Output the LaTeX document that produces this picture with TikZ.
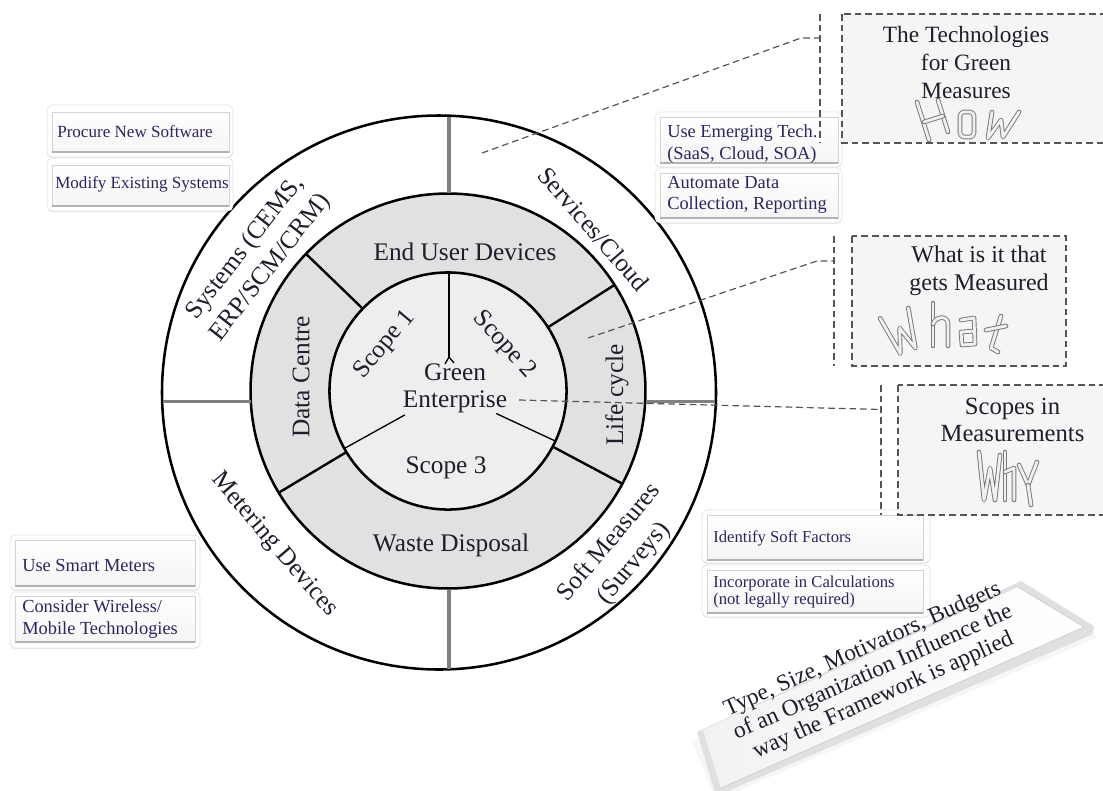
\documentclass[tikz,border=0pt]{standalone}
\usepackage{fontspec}
\setmainfont{Liberation Serif}
\usetikzlibrary{shadows,calc}

\definecolor{ink}{HTML}{1E1E2C}
\definecolor{cardink}{HTML}{2A2760}
\definecolor{ringgray}{HTML}{E1E1E1}
\definecolor{coregray}{HTML}{EEEEEE}
\definecolor{notefill}{HTML}{F5F5F5}
\definecolor{dashgray}{HTML}{555555}
\definecolor{spokegray}{HTML}{808080}
\definecolor{decogray}{HTML}{7A7A7A}

\begin{document}
\begin{tikzpicture}[x=0.75pt,y=-0.75pt,
  ring/.style={draw=black, line width=1.9pt},
  spoke/.style={draw=spokegray, line width=2.6pt},
  cut/.style={draw=black, line width=1.8pt},
  hair/.style={draw=black, line width=1pt},
  lbl/.style={text=ink, font=\fontsize{19}{24}\selectfont, inner sep=0pt, align=center},
  note/.style={draw=dashgray, dash pattern=on 5pt off 3pt, fill=notefill, line width=0.9pt},
  lead/.style={draw=dashgray, dash pattern=on 5pt off 3pt, line width=0.9pt},
  cardframe/.style={fill=white, draw=gray!22, line width=0.5pt, rounded corners=4pt,
    drop shadow={opacity=0.18, shadow xshift=0pt, shadow yshift=-0.8pt}},
  cardface/.style={top color=white, bottom color=gray!8, draw=gray!35, line width=0.5pt},
  cardedge/.style={draw=gray!60, line width=1.3pt},
  cardtxt/.style={text=cardink, font=\fontsize{13.8}{16.3}\selectfont, inner sep=0pt, anchor=west, align=left},
  toptxt/.style={cardtxt, font=\fontsize{12.8}{15}\selectfont},
  smalltxt/.style={cardtxt, font=\fontsize{12.5}{12.8}\selectfont},
  deco/.style={draw=decogray, double=gray!12, double distance=2.1pt, line width=0.7pt, line cap=round, line join=round}
]
\useasboundingbox (0,0) rectangle (1103,790);

% ---------- wheel ----------
\coordinate (oc) at (439,392.5);
\coordinate (c) at (448,391);
\draw[ring, fill=white] (oc) circle[radius=207.75pt];
\draw[ring, fill=ringgray] (c) circle[radius=148.1pt];
\draw[ring, fill=coregray] (c) circle[radius=88.9pt];

% outer ring separators
\coordinate (vt1) at (449,116.5); \coordinate (vt2) at (449,193);
\coordinate (vb1) at (449,589.5); \coordinate (vb2) at (449,669);
\coordinate (hl1) at (163,401.5); \coordinate (hl2) at (250.5,401.5);
\coordinate (hr1) at (645.5,401.5); \coordinate (hr2) at (715,401.5);
\draw[spoke] (vt1) -- (vt2);
\draw[spoke] (vb1) -- (vb2);
\draw[spoke] (hl1) -- (hl2);
\draw[spoke] (hr1) -- (hr2);

% middle ring separators
\foreach \a in {136,32.5,-28,211}
  \draw[cut] ($(c)+(\a:88.9pt)$) -- ($(c)+(\a:148.1pt)$);

% core separators
\coordinate (ytop) at (449,273.5);
\coordinate (yfork) at (449,357);
\draw[hair] (ytop) -- (yfork);
\draw[hair] (yfork) -- ++(-4,7);
\draw[hair] (yfork) -- ++(5,6);
\draw[hair] ($(c)+(209:37pt)$) -- ($(c)+(209:88.9pt)$);
\draw[hair] ($(c)+(-25:40pt)$) -- ($(c)+(-25:88.9pt)$);

% ring labels
\node[lbl] (eud) at (465,252) {End User Devices};
\node[lbl, rotate=90] (dc) at (301,377) {Data Centre};
\node[lbl, rotate=90] (lc) at (617,395) {Life cycle};
\node[lbl] (wd) at (451,545) {Waste Disposal};
\node[lbl, rotate=50] (s1) at (385,345) {Scope 1};
\node[lbl, rotate=-48] (s2) at (504,345) {Scope 2};
\node[lbl] (s3) at (446,468) {Scope 3};
\node[lbl] (green) at (455,372) {Green};
\node[lbl] (ent) at (455,402) {Enterprise};
\node[lbl, rotate=52] (sys) at (258,258) {Systems (CEMS,\\ERP/SCM/CRM)};
\node[lbl, rotate=-49] (svc) at (594,229) {Services/Cloud};
\node[lbl, rotate=-49.5] (met) at (274,545) {Metering Devices};
\node[lbl, rotate=50] (soft) at (622,553) {Soft Measures\\(Surveys)};

% ---------- action cards ----------
% systems
\draw[cardframe] (47,105) rectangle (233,157);
\draw[cardface] (52,112) rectangle (229,152);
\draw[cardedge] (52,152) -- (229,152);
\node[toptxt] (procure) at (57,132) {Procure New Software};
\draw[cardframe] (47,158) rectangle (233,211);
\draw[cardface] (52,165) rectangle (229,206);
\draw[cardedge] (52,206) -- (229,206);
\node[toptxt] (modify) at (55,184) {Modify Existing Systems};
% services
\draw[cardframe] (655,112) rectangle (842,167);
\draw[cardface] (660,117) rectangle (838,163);
\draw[cardedge] (660,163) -- (838,163);
\node[cardtxt] (emerge) at (667,144) {Use Emerging Tech.\\(SaaS, Cloud, SOA)};
\draw[cardframe] (655,168) rectangle (842,223);
\draw[cardface] (660,173) rectangle (838,218);
\draw[cardedge] (660,218) -- (838,218);
\node[cardtxt] (automate) at (667,195) {Automate Data\\Collection, Reporting};
% metering
\draw[cardframe] (10,535) rectangle (200,590);
\draw[cardface] (15,540) rectangle (195,586);
\draw[cardedge] (15,586) -- (195,586);
\node[cardtxt] (smart) at (22,565) {Use Smart Meters};
\draw[cardframe] (10,592) rectangle (200,648);
\draw[cardface] (15,596) rectangle (195,642);
\draw[cardedge] (15,642) -- (195,642);
\node[cardtxt] (wireless) at (22,619) {Consider Wireless/\\Mobile Technologies};
% soft measures
\draw[cardframe] (702,510) rectangle (930,563);
\draw[cardface] (707,515) rectangle (923,560);
\draw[cardedge] (707,560) -- (923,560);
\node[smalltxt] (identify) at (713,538) {Identify Soft Factors};
\draw[cardframe] (702,565) rectangle (930,617);
\draw[cardface] (707,570) rectangle (923,613);
\draw[cardedge] (707,613) -- (923,613);
\node[smalltxt] (incorp) at (713,592) {Incorporate in Calculations\\(not legally required)};

% ---------- question notes ----------
% how
\draw[note] (842,14) rectangle (1112,143);
\coordinate (howT) at (820,14); \coordinate (howB) at (820,143);
\draw[lead] (howT) -- (howB);
\coordinate (howsrc) at (482,153); \coordinate (howknee) at (801,38); \coordinate (howend) at (820,38);
\draw[lead] (howsrc) -- (howknee) -- (howend);
\node[text=ink, font=\fontsize{17.5}{21}\selectfont, align=center, inner sep=0pt] (howtxt) at (966,63) {The Technologies\\for Green\\Measures};
\draw[deco] (917,102) -- (929,140);
\draw[deco] (938,100) -- (948,132);
\draw[deco] (924,122) -- (943,116);
\draw[deco, rounded corners=3pt] (960,112) rectangle (974,137);
\draw[deco] (992,112) -- (988,138) -- (1001,120) -- (1003,137) -- (1019,112);

% what
\draw[note] (852,236) rectangle (1066,366);
\coordinate (whatT) at (834,236); \coordinate (whatB) at (834,366);
\draw[lead] (whatT) -- (whatB);
\coordinate (whatsrc) at (588,338); \coordinate (whatknee) at (817,261); \coordinate (whatend) at (834,261);
\draw[lead] (whatsrc) -- (whatknee) -- (whatend);
\node[text=ink, font=\fontsize{18}{21}\selectfont, align=center, inner sep=0pt] (whattxt) at (979,271) {What is it that\\gets Measured};
\begin{scope}[rotate around={20:(901,332)}]
  \draw[deco] (886,312) -- (893,352) -- (901,328) -- (909,352) -- (916,312);
\end{scope}
\draw[deco] (933,303) -- (933,346);
\draw[deco] (933,324) .. controls (936,316) and (948,315) .. (948,324) -- (948,346);
\draw[deco] (961,320) -- (974,318) -- (975,344) -- (962,345) -- (961,332) -- (975,331);
\draw[deco] (1001,316) -- (991,348) -- (998,352);
\draw[deco] (986,330) -- (1006,326);

% why
\draw[note] (898,385) rectangle (1112,515);
\coordinate (whyT) at (881,385); \coordinate (whyB) at (881,515);
\draw[lead] (whyT) -- (whyB);
\coordinate (whysrc) at (519,400); \coordinate (whyend) at (881,409.5);
\draw[lead] (whysrc) -- (whyend);
\node[text=ink, font=\fontsize{18.5}{20}\selectfont, align=center, inner sep=0pt] (whytxt) at (1012.5,420) {Scopes in\\Measurements};
\draw[deco] (979,452) -- (984,500) -- (990,468) -- (995,500) -- (1000,455);
\draw[deco] (1005,452) -- (1005,500);
\draw[deco] (1005,472) -- (1014,468) -- (1014,500);
\draw[deco] (1019,465) -- (1028,485) -- (1037,462);
\draw[deco] (1028,485) -- (1031,505);

% ---------- context slab ----------
\fill[gray!7] (692,742) -- (1018,590) -- (1098,637) -- (716,800) -- cycle;
\fill[gray!24] (697,732) -- (1021,581) -- (1094,626) -- (1093,634) -- (716,796) -- cycle;
\shade[left color=gray!10, right color=white] (703,730) -- (1018,587) -- (1084,627) -- (721,788) -- cycle;
\draw[gray!40, line width=0.5pt] (1018,587) -- (1084,627) -- (721,788);
\node[rotate=24, align=center, text=ink, font=\fontsize{17.5}{19}\selectfont, inner sep=0pt] (ctx) at (873,673)
  {Type, Size, Motivators, Budgets\\of an Organization Influence the\\way the Framework is applied};

\end{tikzpicture}
\end{document}
